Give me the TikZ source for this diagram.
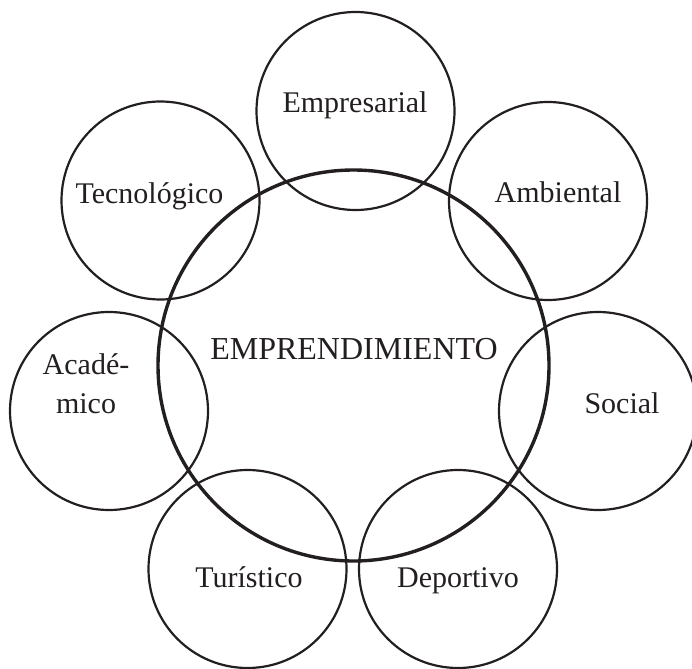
\documentclass[tikz,border=0pt]{standalone}
\usepackage{fontspec}
\setmainfont{Liberation Serif}
\usepackage{xcolor}
\definecolor{ink}{HTML}{231F20}
\tikzset{
    every node/.style = {text=ink},
    area/.style = {draw=ink, circle, line width=2.2pt, minimum size=198pt, inner sep=0pt},
    core/.style = {draw=ink, circle, line width=3.4pt, minimum size=391pt, inner sep=0pt},
    tag/.style = {anchor=base, align=center, font=\fontsize{30}{39}\selectfont},
    title/.style = {anchor=base, font=\fontsize{32}{38}\selectfont}
}

\begin{document}
\begin{tikzpicture}[x=1pt, y=-1pt]
    \useasboundingbox (0,0) rectangle (692,668);
    % central circle
    \node[core] (core) at (353.5,365.5) {};
    \node[title] (emprendimiento) at (354,359) {EMPRENDIMIENTO};
    % surrounding areas
    \node[area] (empresarial) at (355.5,111) {};
    \node[area] (ambiental) at (548,201) {};
    \node[area] (social) at (598,411) {};
    \node[area] (deportivo) at (458,569) {};
    \node[area] (turistico) at (247.5,569) {};
    \node[area] (academico) at (109,411) {};
    \node[area] (tecnologico) at (160.5,200.5) {};
    % labels
    \node[tag] (lempresarial) at (355,113) {Empresarial};
    \node[tag] (lambiental) at (558,203) {Ambiental};
    \node[tag] (lsocial) at (622,413) {Social};
    \node[tag] (ldeportivo) at (458,587) {Deportivo};
    \node[tag] (lturistico) at (249,587) {Turístico};
    \node[tag] (lacademico) at (86,413) {Acadé-\\mico};
    \node[tag] (ltecnologico) at (149.5,204) {Tecnológico};
\end{tikzpicture}
\end{document}
